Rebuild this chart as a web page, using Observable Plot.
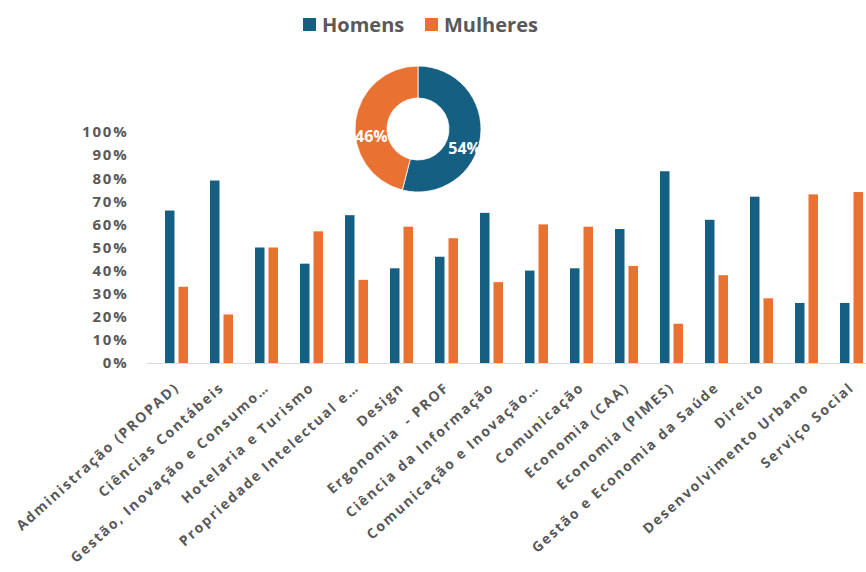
<!DOCTYPE html>
<html><head><meta charset="utf-8">
<script src="https://cdn.jsdelivr.net/npm/d3@7"></script>
<script src="https://cdn.jsdelivr.net/npm/@observablehq/plot@0.6"></script>
<style>
html,body{margin:0;padding:0;background:#fff;overflow:hidden;}
#wrap{width:866px;height:572px;overflow:hidden;position:relative;font-family:"Open Sans",sans-serif;}
#legend{height:45px;position:relative;}
.item{position:absolute;top:11px;display:flex;align-items:center;font-size:20px;font-weight:700;color:#595959;white-space:nowrap;}
.sw{width:13px;height:13px;margin-right:6px;display:inline-block;}
#chart svg{display:block;max-width:none !important;}
</style></head><body>
<div id="wrap">
<div id="legend"></div>
<div id="chart"></div>
</div>
<script>
const categories = [
  "Administração (PROPAD)", "Ciências Contábeis", "Gestão, Inovação e Consumo…",
  "Hotelaria e Turismo", "Propriedade Intelectual e…", "Design", "Ergonomia  - PROF",
  "Ciência da Informação", "Comunicação e Inovação…", "Comunicação", "Economia (CAA)",
  "Economia (PIMES)", "Gestão e Economia da Saúde", "Direito", "Desenvolvimento Urbano",
  "Serviço Social"
];
const homens   = [66, 79, 50, 43, 64, 41, 46, 65, 40, 41, 58, 83, 62, 72, 26, 26];
const mulheres = [33, 21, 50, 57, 36, 59, 54, 35, 60, 59, 42, 17, 38, 28, 73, 74];
const series = ["Homens", "Mulheres"];
const colors = ["#156082", "#E97132"];
const pieValues = [54, 46];
const yTicks = [0, 0.1, 0.2, 0.3, 0.4, 0.5, 0.6, 0.7, 0.8, 0.9, 1];

const data = categories.flatMap((c, i) => [
  {categoria: c, sexo: series[0], valor: homens[i] / 100},
  {categoria: c, sexo: series[1], valor: mulheres[i] / 100}
]);

// legend
const legend = document.getElementById("legend");
const legendLeft = [303, 425];
series.forEach((s, i) => {
  const it = document.createElement("div");
  it.className = "item";
  it.style.left = legendLeft[i] + "px";
  it.innerHTML = `<span class="sw" style="background:${colors[i]}"></span>${s}`;
  legend.appendChild(it);
});

const legendH = 45;
function donut(index, scales, values, dims) {
  const cx = 418, cy = 129 - legendH;
  const g = d3.create("svg:g").attr("transform", `translate(${cx},${cy})`);
  const arcs = d3.pie().sort(null)(pieValues);
  const arc = d3.arc().innerRadius(31).outerRadius(63);
  g.selectAll("path").data(arcs).join("path")
    .attr("d", arc)
    .attr("fill", (d, i) => scales.color(series[i]))
    .attr("stroke", "#fff").attr("stroke-width", 0.8);
  const lab = d3.arc().innerRadius(47).outerRadius(47);
  g.selectAll("text").data(arcs).join("text")
    .attr("transform", d => { const [x, y] = lab.centroid(d); return `translate(${x},${y + 13})`; })
    .attr("text-anchor", "middle").attr("dy", "0.35em")
    .attr("fill", "#fff").attr("font-size", 16).attr("font-weight", 700)
    .text(d => d3.format(".0%")(d.data / 100));
  return g.node();
}

const chart = Plot.plot({
  width: 880,
  height: 527,
  marginLeft: 147,
  marginRight: 0,
  marginTop: 87,
  marginBottom: 209,
  style: {fontFamily: "'Open Sans', sans-serif", fontWeight: 700, color: "#595959", background: "#fff", maxWidth: "none"},
  x: {domain: categories, padding: 0, axis: null},
  y: {domain: [0, 1], axis: null},
  color: {domain: series, range: colors},
  marks: [
    Plot.ruleY([0], {stroke: "#d9d9d9", strokeWidth: 1}),
    Plot.barY(data.filter(d => d.sexo === series[0]), {x: "categoria", y: "valor", fill: "sexo", insetLeft: 11, insetRight: 24.5}),
    Plot.barY(data.filter(d => d.sexo === series[1]), {x: "categoria", y: "valor", fill: "sexo", insetLeft: 24.5, insetRight: 11}),
    Plot.axisY({ticks: yTicks, tickFormat: d3.format(".0%"), tickSize: 0, tickPadding: 19, fontSize: 15, fill: "#595959", label: null}),
    Plot.axisX({tickRotate: -42, tickSize: 0, tickPadding: 22, fontSize: 14, fill: "#595959", label: null}),
    donut
  ]
});
chart.querySelectorAll("[aria-label='x-axis tick label'] text").forEach(t => t.style.letterSpacing = "1.8px");
chart.querySelectorAll("[aria-label='y-axis tick label'] text").forEach(t => t.style.letterSpacing = "1.8px");
document.getElementById("chart").appendChild(chart);
</script>
</body></html>
